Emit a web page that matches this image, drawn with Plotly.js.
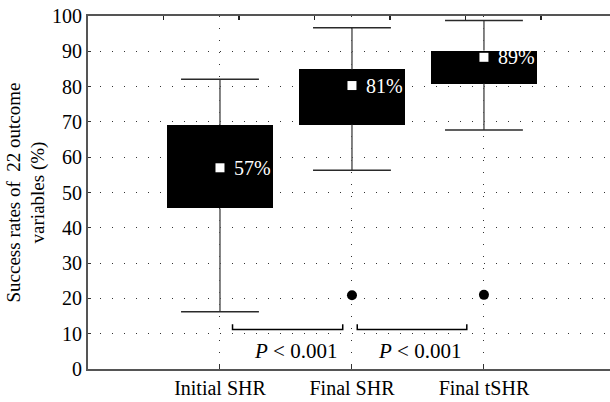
<!DOCTYPE html>
<html>
<head>
<meta charset="utf-8">
<script src="https://cdn.plot.ly/plotly-3.0.1.min.js"></script>
<style>html,body{margin:0;padding:0;background:#fff;}#chart{width:610px;height:402px;}</style>
</head>
<body>
<div id="chart"></div>
<script>
// ---- data ----
var categories = ['Initial SHR', 'Final SHR', 'Final tSHR'];
var lowerWhisker = [16.2, 56.3, 67.7];
var q1 = [45.5, 69.2, 80.8];
var q3 = [69.1, 84.9, 90.2];
var upperWhisker = [82.1, 96.7, 98.7];
var means = [57, 80.3, 88.3];
var meanLabels = ['57%', '81%', '89%'];
var outlierIdx = [1, 2];
var outlierVal = [20.9, 21.0];
var bracketStart = [0.095, 1.04];
var bracketEnd = [0.93, 1.87];
var bracketLevel = 11.2;
var bracketTip = 12.7;
var pLabelX = [0.575, 1.51];
var pLabelY = 5;
var pLabels = ['<i>P</i> < 0.001', '<i>P</i> < 0.001'];
var yTicks = [0, 10, 20, 30, 40, 50, 60, 70, 80, 90, 100];
var topTicks = [1, 2, 3, 4, 5, 6];

var FONT = 'Liberation Serif';
var BOXW = 0.81, CAPW = 0.59;
var idx = categories.map(function (c, i) { return i; });

var traces = [];
// whisker stems (gray) and caps
var sx = [], sy = [], cx = [], cy = [];
idx.forEach(function (i) {
  sx.push(i, i, null, i, i, null);
  sy.push(lowerWhisker[i], q1[i], null, q3[i], upperWhisker[i], null);
  cx.push(i - CAPW / 2, i + CAPW / 2, null, i - CAPW / 2, i + CAPW / 2, null);
  cy.push(lowerWhisker[i], lowerWhisker[i], null, upperWhisker[i], upperWhisker[i], null);
});
traces.push({type: 'scatter', mode: 'lines', x: sx, y: sy,
  line: {color: '#5a5a5a', width: 1.5}, hoverinfo: 'skip', showlegend: false});
traces.push({type: 'scatter', mode: 'lines', x: cx, y: cy,
  line: {color: '#2a2a2a', width: 1.5}, hoverinfo: 'skip', showlegend: false});

// black boxes
traces.push({
  type: 'bar', x: idx, base: q1,
  y: idx.map(function (i) { return q3[i] - q1[i]; }),
  width: BOXW, marker: {color: '#000', line: {width: 0}},
  hoverinfo: 'skip', showlegend: false
});

// brackets
for (var i = 0; i < bracketStart.length; i++) {
  traces.push({
    type: 'scatter', mode: 'lines',
    x: [bracketStart[i], bracketStart[i], bracketEnd[i], bracketEnd[i]],
    y: [bracketTip, bracketLevel, bracketLevel, bracketTip],
    line: {color: '#000', width: 1.5},
    hoverinfo: 'skip', showlegend: false
  });
}

// outliers
traces.push({
  type: 'scatter', mode: 'markers',
  x: outlierIdx, y: outlierVal,
  marker: {color: '#000', size: 10, symbol: 'circle'},
  hoverinfo: 'skip', showlegend: false
});

// means
traces.push({
  type: 'scatter', mode: 'markers',
  x: idx, y: means,
  marker: {color: '#fff', size: 9, symbol: 'square', line: {width: 0}},
  hoverinfo: 'skip', showlegend: false
});

// dummy trace for top axis
traces.push({
  type: 'scatter', mode: 'markers', x: [0], y: [0], xaxis: 'x2',
  marker: {opacity: 0}, hoverinfo: 'skip', showlegend: false
});

var annotations = [];
idx.forEach(function (j) {
  annotations.push({
    x: j, y: means[j], xref: 'x', yref: 'y', text: meanLabels[j],
    showarrow: false, xanchor: 'left', yanchor: 'middle', xshift: 12,
    font: {family: FONT, size: 20, color: '#fff'}
  });
});
for (var k = 0; k < pLabels.length; k++) {
  annotations.push({
    x: pLabelX[k], y: pLabelY, xref: 'x', yref: 'y', text: pLabels[k],
    showarrow: false, xanchor: 'center', yanchor: 'middle',
    font: {family: FONT, size: 21, color: '#000'}
  });
}

var layout = {
  width: 610, height: 402,
  margin: {l: 88, r: 0, t: 15.5, b: 32.5},
  paper_bgcolor: '#fff', plot_bgcolor: '#fff',
  font: {family: FONT, size: 20, color: '#000'},
  showlegend: false,
  bargap: 0,
  xaxis: {
    range: [-1, 2.955],
    tickvals: idx, ticktext: categories,
    showline: true, linecolor: '#555', linewidth: 2,
    ticks: 'inside', ticklen: 4, tickcolor: '#333', tickwidth: 1,
    showgrid: true, gridcolor: '#333', gridwidth: 1, griddash: '1px,11px',
    zeroline: false,
    tickfont: {family: FONT, size: 20, color: '#000'}
  },
  xaxis2: {
    overlaying: 'x', side: 'top',
    range: [0, 522 / 75.5],
    showline: true, linecolor: '#555', linewidth: 2,
    ticks: 'inside', ticklen: 4, tickcolor: '#222', tickwidth: 1.5,
    tickvals: topTicks, showticklabels: false,
    showgrid: false, zeroline: false, fixedrange: true
  },
  yaxis: {
    range: [0, 100],
    tickvals: yTicks,
    showline: true, linecolor: '#555', linewidth: 2,
    ticks: 'inside', ticklen: 3, tickcolor: '#333',
    showgrid: true, gridcolor: '#333', gridwidth: 1, griddash: '1px,11px',
    zeroline: false,
    tickfont: {family: FONT, size: 20, color: '#000'},
    title: {text: 'Success rates of  22 outcome<br>variables (%)', font: {family: FONT, size: 19, color: '#000'}, standoff: 2}
  },
  annotations: annotations
};

Plotly.newPlot('chart', traces, layout, {displayModeBar: false, staticPlot: true});
</script>
</body>
</html>
